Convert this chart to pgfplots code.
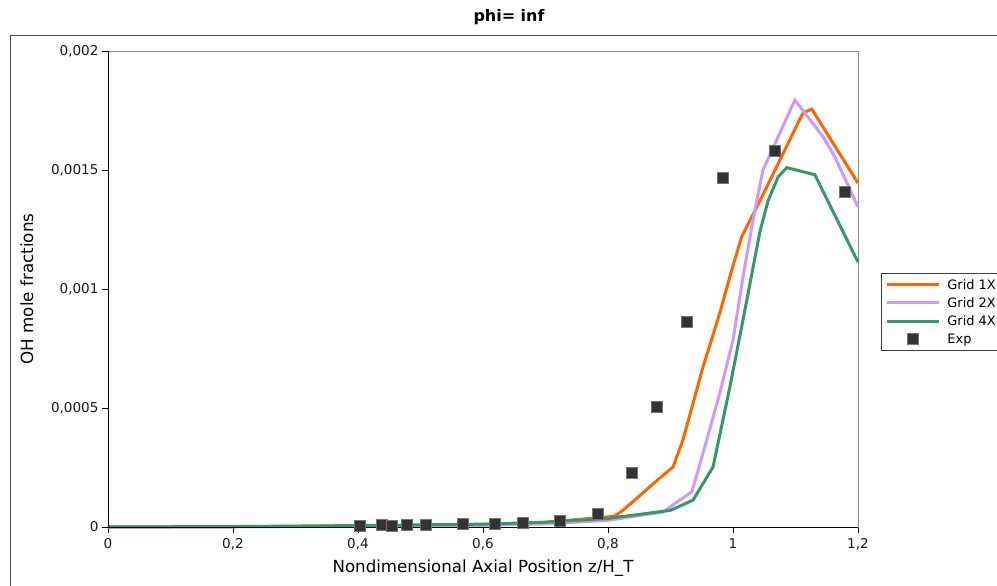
\documentclass[border=0pt]{standalone}
\usepackage{pgfplots}
\pgfplotsset{compat=1.18}
\usepackage{fontspec}
\setmainfont{DejaVu Sans}
\definecolor{c1}{HTML}{FF6600}
\definecolor{c2}{HTML}{CC99FF}
\definecolor{c4}{HTML}{339966}
\definecolor{cexp}{HTML}{333333}
\pgfplotsset{
  lineleg/.style={legend image code/.code={\draw[##1] (0bp,0bp)--(52bp,0bp);}},
  markleg/.style={legend image code/.code={\draw[##1] plot coordinates {(26bp,0bp)};}},
}
\begin{document}
\begin{tikzpicture}
\useasboundingbox (0bp,0bp) rectangle (997bp,586bp);
\fill[white] (0bp,0bp) rectangle (997bp,586bp);
\draw[black!70, line width=1bp] (10bp,-5bp) -- (10bp,550bp) -- (1005bp,550bp);
\node[font=\fontsize{16}{18}\selectfont\bfseries] at (509bp,569bp) {phi= inf};
\begin{axis}[
  at={(108bp,59bp)}, anchor=south west,
  scale only axis, width=750bp, height=476bp,
  xmin=0, xmax=1.2, ymin=0, ymax=0.002,
  axis line style={draw=black!45, line width=0.8bp},
  xtick={0,0.2,0.4,0.6,0.8,1,1.2},
  xticklabels={0,{0,2},{0,4},{0,6},{0,8},1,{1,2}},
  ytick={0,0.0005,0.001,0.0015,0.002},
  yticklabels={0,{0,0005},{0,001},{0,0015},{0,002}},
  tick align=outside, xtick pos=left, ytick pos=left,
  major tick length=6bp,
  tick style={black, line width=0.8bp},
  ticklabel style={font=\fontsize{13.6}{15}\selectfont, text=black!90},
  xticklabel style={yshift=-2bp},
  scaled y ticks=false,
  xlabel={Nondimensional Axial Position z/H\_T},
  ylabel={OH mole fractions},
  xlabel style={at={([yshift=-41bp]axis description cs:0.5,0)}, anchor=center, font=\fontsize{16.7}{19}\selectfont},
  ylabel style={at={([xshift=-81bp]axis description cs:0,0.5)}, anchor=center, font=\fontsize{16.8}{19}\selectfont},
  legend style={at={([xshift=23bp]axis description cs:1,0.452)}, anchor=west,
    draw=black!75, line width=0.8bp, fill=white,
    font=\fontsize{13}{15}\selectfont, row sep=2.8bp, inner xsep=4bp, inner ysep=4bp,
    nodes={inner xsep=7bp}},
  legend cell align=left,
  clip=false,
]
\addplot[c1, line width=3bp, lineleg] table {
x y
0 0
0.2 0.000001
0.4 0.000004
0.6 0.000010
0.7 0.000020
0.78 0.000038
0.81 0.000045
0.824 0.00007
0.883 0.000206
0.904 0.000252
0.92 0.000366
0.952 0.000672
0.979 0.0009
0.998 0.00108
1.014 0.00122
1.043 0.00137
1.112 0.00174
1.126 0.001756
1.2 0.001445
};
\addlegendentry{Grid 1X}
\addplot[c2, line width=3bp, lineleg] table {
x y
0 0
0.2 0.000001
0.4 0.000003
0.6 0.000007
0.7 0.000013
0.8 0.000028
0.888 0.000063
0.915 0.000113
0.934 0.000147
0.952 0.00031
0.979 0.000563
1.0 0.000786
1.016 0.00105
1.03 0.00126
1.038 0.00137
1.048 0.0015
1.099 0.001794
1.144 0.00164
1.163 0.001555
1.2 0.001345
};
\addlegendentry{Grid 2X}
\addplot[c4, line width=3bp, lineleg] table {
x y
0 0
0.2 0.000002
0.4 0.000006
0.6 0.000012
0.7 0.000020
0.8 0.000036
0.9 0.00007
0.936 0.000113
0.968 0.000252
0.995 0.000588
1.016 0.00087
1.043 0.00124
1.056 0.00137
1.072 0.00147
1.086 0.00151
1.131 0.00148
1.2 0.001113
};
\addlegendentry{Grid 4X}
\addplot[only marks, mark=square*, mark size=5.5bp, mark options={fill=cexp, draw=black!55, line width=0.8bp}, markleg] table {
x y
0.403 0.000004
0.438 0.000009
0.454 0.000004
0.478 0.000008
0.509 0.000008
0.568 0.000013
0.619 0.000013
0.664 0.000017
0.723 0.000025
0.784 0.000055
0.838 0.000227
0.878 0.000504
0.926 0.000861
0.984 0.001466
1.067 0.00158
1.179 0.001408
};
\addlegendentry{Exp}
\draw[black, line width=1bp] (rel axis cs:0,1) -- (rel axis cs:0,0) -- (rel axis cs:1,0);
\end{axis}
\end{tikzpicture}
\end{document}
